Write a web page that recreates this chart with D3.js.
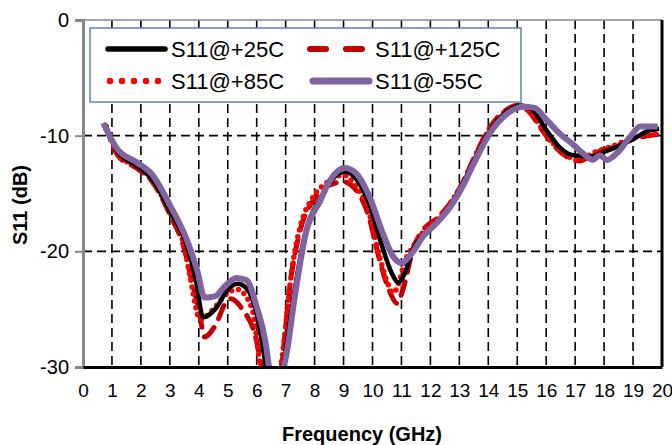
<!DOCTYPE html>
<html>
<head>
<meta charset="utf-8">
<script src="https://cdn.jsdelivr.net/npm/d3@7"></script>
<style>
  body { margin: 0; background: #fff; }
  text { font-family: "Liberation Sans", Arial, sans-serif; }
</style>
</head>
<body>
<div id="chart"></div>
<script>
// S11 vs frequency, values as [GHz, dB]
var xTicks = d3.range(0, 21);
var yTicks = [0, -10, -20, -30];

var s25 = [[0.75,-9.0],[1.2,-11.4],[1.85,-12.6],[2.4,-13.8],[3.0,-16.5],[3.6,-19.6],[3.9,-22.5],[4.15,-25.7],[4.6,-24.9],[5.0,-23.3],[5.35,-22.8],[5.65,-23.2],[6.0,-25.4],[6.3,-29.7],[6.45,-32],[6.8,-32],[6.95,-29.5],[7.3,-23.5],[7.7,-18.2],[8.2,-15.4],[8.6,-13.8],[9.05,-13.1],[9.45,-13.8],[9.9,-16.0],[10.3,-19.3],[10.65,-21.8],[10.9,-22.7],[11.1,-22.0],[11.4,-19.8],[11.8,-18.5],[12.2,-17.6],[12.7,-16.0],[13.15,-14.0],[13.5,-12.2],[14.05,-9.6],[14.6,-8.0],[15.1,-7.4],[15.5,-7.7],[16.0,-9.5],[16.5,-11.1],[16.95,-11.7],[17.5,-11.8],[18.0,-11.4],[18.5,-10.9],[19.0,-10.3],[19.5,-9.6],[19.9,-9.4]];

var s85 = [[0.8,-9.2],[1.2,-11.6],[1.85,-12.7],[2.4,-13.9],[3.0,-16.6],[3.5,-19.6],[3.7,-22.2],[4.05,-25.9],[4.5,-25.0],[5.0,-23.6],[5.35,-23.3],[5.6,-23.8],[5.9,-25.6],[6.1,-29.6],[6.3,-33],[6.6,-33],[6.85,-29.7],[7.25,-21.0],[7.5,-17.9],[7.95,-15.3],[8.4,-14.1],[9.0,-13.4],[9.4,-14.3],[9.85,-16.4],[10.25,-20.5],[10.5,-22.6],[10.72,-23.6],[10.9,-22.8],[11.1,-21.0],[11.4,-19.6],[11.8,-18.2],[12.2,-17.3],[12.7,-15.8],[13.15,-13.9],[13.5,-12.0],[14.0,-9.6],[14.5,-8.1],[15.0,-7.4],[15.4,-7.8],[15.8,-9.2],[16.25,-10.7],[16.7,-11.7],[17.15,-12.1],[17.6,-11.5],[18.3,-10.9],[19.0,-10.2],[19.85,-9.8]];

var s125 = [[0.8,-9.2],[1.2,-11.7],[1.85,-12.8],[2.4,-14.0],[3.0,-16.8],[3.5,-19.8],[3.75,-22.5],[4.0,-25.0],[4.2,-27.4],[4.55,-26.5],[5.0,-24.2],[5.1,-24.1],[5.5,-25.0],[6.0,-27.8],[6.2,-30.5],[6.5,-34],[6.8,-31],[7.2,-22.0],[7.5,-18.2],[7.95,-15.6],[8.4,-14.4],[9.0,-14.0],[9.4,-14.6],[9.85,-16.8],[10.25,-20.8],[10.55,-23.2],[10.85,-24.5],[11.05,-23.3],[11.4,-19.8],[11.8,-18.0],[12.2,-17.2],[12.7,-15.8],[13.15,-13.9],[13.5,-12.0],[14.0,-9.5],[14.5,-8.0],[15.0,-7.4],[15.4,-7.9],[15.8,-9.3],[16.25,-10.8],[16.7,-11.8],[17.15,-12.2],[17.6,-11.6],[18.3,-11.0],[19.0,-10.3],[19.85,-9.9]];

var s55 = [[0.7,-8.9],[1.2,-11.2],[1.85,-12.3],[2.4,-13.4],[3.0,-16.0],[3.6,-19.1],[3.95,-21.7],[4.2,-24.0],[4.55,-23.9],[4.95,-22.9],[5.3,-22.3],[5.65,-22.5],[6.0,-24.8],[6.3,-27.8],[6.45,-30.5],[6.7,-35],[6.92,-30.3],[7.05,-28.6],[7.3,-24.2],[7.7,-18.4],[8.2,-15.6],[8.55,-13.8],[9.05,-12.8],[9.45,-13.3],[9.9,-15.3],[10.35,-18.4],[10.7,-20.4],[11.0,-21.0],[11.35,-20.2],[11.75,-18.7],[12.2,-17.6],[12.7,-16.1],[13.15,-14.2],[13.5,-12.4],[14.05,-9.8],[14.6,-8.2],[15.2,-7.5],[15.6,-7.6],[16.0,-8.6],[16.5,-9.9],[16.95,-10.8],[17.2,-11.4],[17.4,-11.8],[17.6,-12.1],[17.85,-11.7],[18.1,-12.1],[18.45,-11.5],[18.9,-10.1],[19.25,-9.2],[19.85,-9.2]];

var seriesNames = ["S11@+125C", "S11@+85C", "S11@+25C", "S11@-55C"];
var seriesData = [s125, s85, s25, s55];

var styles = {
    "S11@+25C":  {color: "#000000", width: 4.5, dash: null, cap: "butt"},
    "S11@+85C":  {color: "#ff0000", width: 5.5, dash: "0,7", cap: "round"},
    "S11@+125C": {color: "#c00000", width: 5, dash: "14,10", cap: "round"},
    "S11@-55C":  {color: "#8064a2", width: 6, dash: null, cap: "butt"}
};

var width = 672, height = 445;
var margin = {top: 20, right: 10, bottom: 78, left: 83};
var plotW = 579, plotH = 347;

var svg = d3.select("#chart").append("svg")
    .attr("width", width)
    .attr("height", height);

var g = svg.append("g")
    .attr("transform", "translate(" + margin.left + "," + margin.top + ")");

var x = d3.scaleLinear().domain([0, 20]).range([0, plotW]);
var y = d3.scaleLinear().domain([-30, 0]).range([plotH, 0]);

// grid lines
g.append("g").selectAll("line")
    .data(xTicks.filter(function(d) { return d > 0 && d < 20; }))
    .enter().append("line")
    .attr("x1", function(d) { return x(d); })
    .attr("x2", function(d) { return x(d); })
    .attr("y1", 0)
    .attr("y2", plotH)
    .attr("stroke", "#000")
    .attr("stroke-width", 1.6)
    .attr("stroke-dasharray", "9,5");

g.append("g").selectAll("line")
    .data([-10, -20])
    .enter().append("line")
    .attr("x1", 0)
    .attr("x2", plotW)
    .attr("y1", function(d) { return y(d); })
    .attr("y2", function(d) { return y(d); })
    .attr("stroke", "#000")
    .attr("stroke-width", 1.6)
    .attr("stroke-dasharray", "9,5");

// frame
g.append("line").attr("x1", 0).attr("x2", plotW).attr("y1", 0).attr("y2", 0)
    .attr("stroke", "#888").attr("stroke-width", 1.5);
g.append("line").attr("x1", plotW).attr("x2", plotW).attr("y1", 0).attr("y2", plotH)
    .attr("stroke", "#000").attr("stroke-width", 3);

// curves
svg.append("defs").append("clipPath").attr("id", "clip")
    .append("rect").attr("width", plotW).attr("height", plotH);

var line = d3.line()
    .x(function(d) { return x(d[0]); })
    .y(function(d) { return y(d[1]); })
    .curve(d3.curveMonotoneX);

var curves = g.append("g").attr("clip-path", "url(#clip)");
seriesNames.forEach(function(name, i) {
    var s = styles[name];
    curves.append("path")
        .datum(seriesData[i])
        .attr("d", line)
        .attr("fill", "none")
        .attr("stroke", s.color)
        .attr("stroke-width", s.width)
        .attr("stroke-linecap", s.cap)
        .attr("stroke-linejoin", "round")
        .attr("stroke-dasharray", s.dash);
});

// axes (plain hyphen for negatives, like the original)
var plain = function(d) { return String(d); };

var yAxis = g.append("g").call(d3.axisLeft(y).tickValues(yTicks).tickFormat(plain).tickSize(8).tickPadding(6));
yAxis.select(".domain").attr("stroke", "#888").attr("stroke-width", 3);
yAxis.selectAll(".tick line").attr("stroke", "#888").attr("stroke-width", 2);
yAxis.selectAll("text").attr("font-size", 20).attr("fill", "#000")
    .attr("font-family", "Liberation Sans, Arial, sans-serif");

var xAxis = g.append("g").attr("transform", "translate(0," + plotH + ")")
    .call(d3.axisBottom(x).tickValues(xTicks).tickFormat(plain).tickSize(0).tickPadding(17));
xAxis.select(".domain").attr("stroke", "#000").attr("stroke-width", 3);
xAxis.selectAll("text").attr("font-size", 19).attr("fill", "#000")
    .attr("font-family", "Liberation Sans, Arial, sans-serif");

// axis titles
svg.append("text")
    .attr("x", 362)
    .attr("y", 441)
    .attr("text-anchor", "middle")
    .attr("font-size", 20)
    .attr("font-weight", "bold")
    .text("Frequency (GHz)");

svg.append("text")
    .attr("transform", "translate(27,205) rotate(-90)")
    .attr("text-anchor", "middle")
    .attr("font-size", 20)
    .attr("font-weight", "bold")
    .text("S11 (dB)");

// legend
var legend = svg.append("g");
legend.append("rect")
    .attr("x", 90).attr("y", 28)
    .attr("width", 431).attr("height", 74)
    .attr("fill", "#fff")
    .attr("stroke", "#5b83c0")
    .attr("stroke-width", 1.5);

var legendItems = [
    {name: "S11@+25C",  lx: 108, tx: 171, ly: 49},
    {name: "S11@+85C",  lx: 110, tx: 171, ly: 81},
    {name: "S11@+125C", lx: 310, tx: 375, ly: 49},
    {name: "S11@-55C",  lx: 313, tx: 375, ly: 81}
];
legendItems.forEach(function(d) {
    var s = styles[d.name];
    legend.append("line")
        .attr("x1", d.lx).attr("x2", d.tx - 6)
        .attr("y1", d.ly).attr("y2", d.ly)
        .attr("stroke", s.color)
        .attr("stroke-width", s.width + 1)
        .attr("stroke-linecap", "round")
        .attr("stroke-dasharray", d.name === "S11@+85C" ? "0,12" : (s.dash ? "16,20" : null));
    legend.append("text")
        .attr("x", d.tx).attr("y", d.ly + 8)
        .attr("font-size", 22)
        .text(d.name);
});
</script>
</body>
</html>
